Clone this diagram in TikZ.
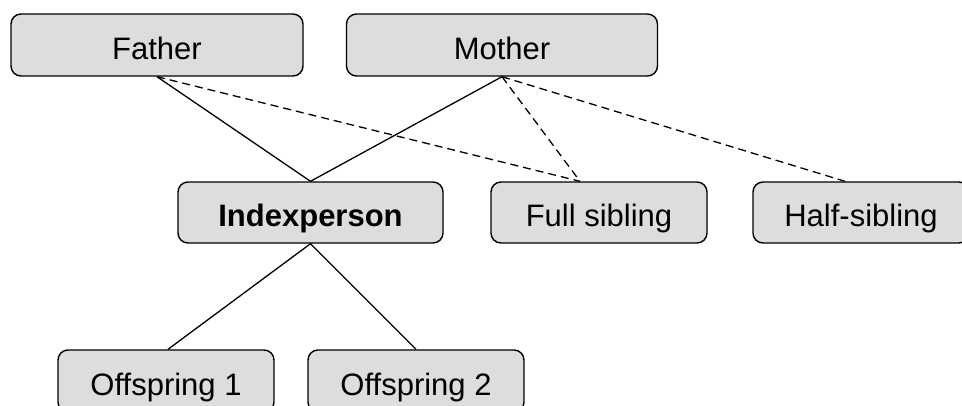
\documentclass[tikz,border=0pt]{standalone}
\usepackage{fontspec}
\setmainfont{Liberation Sans}
\definecolor{boxfill}{RGB}{221,221,221}
\tikzset{
  person/.style={draw=black, line width=1.4pt, fill=boxfill, rounded corners=10pt,
    minimum height=62pt, inner sep=0pt, text height=28pt, text depth=0pt,
    font=\fontsize{31}{37}\selectfont},
  link/.style={draw=black, line width=1.3pt},
  halflink/.style={link, dash pattern=on 8pt off 5pt}
}
\begin{document}
\begin{tikzpicture}[x=1pt, y=-1pt]
  \useasboundingbox (0,0) rectangle (962,405);
  \clip (0,0) rectangle (962,405);
  \fill[white] (0,0) rectangle (962,405);

  % parents
  \node[person, minimum width=292pt] (father) at (157,45) {Father};
  \node[person, minimum width=311pt] (mother) at (502,45) {Mother};

  % index generation
  \node[person, minimum width=265pt, minimum height=61pt] (index) at (310.5,212.5) {\textbf{Indexperson}};
  \node[person, minimum width=216pt, minimum height=61pt] (full) at (599,212.5) {Full sibling};
  \node[person, minimum width=216pt, minimum height=61pt] (half) at (861,212.5) {Half-sibling};

  % children
  \node[person, minimum width=216pt] (off1) at (166,381) {Offspring 1};
  \node[person, minimum width=216pt] (off2) at (416,381) {Offspring 2};

  % parent links
  \draw[link] (father.south) -- (index.north);
  \draw[link] (mother.south) -- (index.north);
  \draw[halflink] (father.south) -- ([xshift=-19pt]full.north);
  \draw[halflink] (mother.south) -- ([xshift=-19pt]full.north);
  \draw[halflink] (mother.south) -- ([xshift=-16pt]half.north);

  % offspring links
  \draw[link] (index.south) -- ([xshift=2pt]off1.north);
  \draw[link] (index.south) -- (off2.north);
\end{tikzpicture}
\end{document}
